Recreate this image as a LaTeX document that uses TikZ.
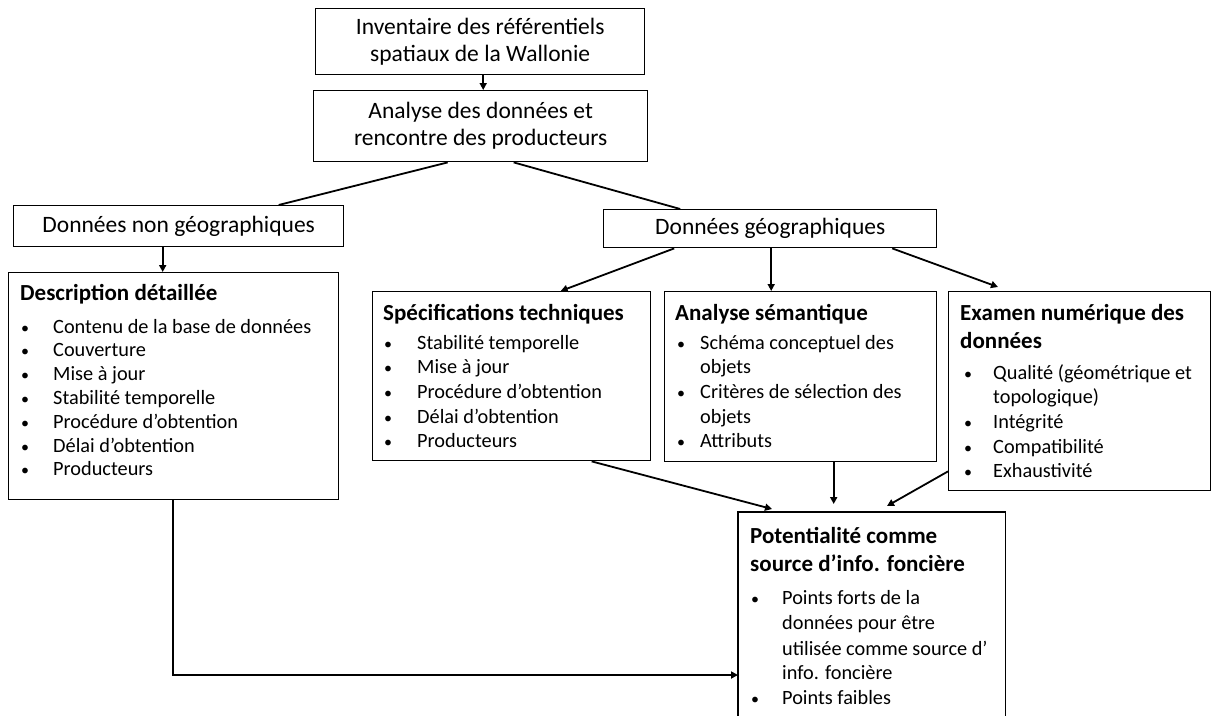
\documentclass[tikz,border=0pt]{standalone}
\usepackage{fontspec}
\setmainfont{Carlito}
\usetikzlibrary{arrows.meta,positioning}
\begin{document}
\begin{tikzpicture}[x=1pt,y=-1pt,
  box/.style={draw, line width=1.4pt, inner sep=0pt, anchor=north west},
  hbox/.style={inner sep=0pt, anchor=north west},
  big/.style={font=\fontsize{23.5}{27}\selectfont},
  ttl/.style={inner sep=0pt, anchor=base west, font=\fontsize{23}{28}\selectfont\bfseries},
  itm/.style={inner sep=0pt, anchor=base west, font=\fontsize{20.3}{24}\selectfont},
  bul/.style={inner sep=0pt, anchor=base west, font=\fontsize{16}{24}\selectfont},
  con/.style={line width=1.8pt},
  arr/.style={con, -{Triangle[length=7pt,width=7pt]}}
]
\useasboundingbox (0,0) rectangle (1213,715);
\fill[white] (0,0) rectangle (1213,715);

% top boxes
\node[box, big, minimum width=329pt, minimum height=66pt, align=center] (inv) at (315,8)
  {Inventaire des référentiels\\spatiaux de la Wallonie};
\node[box, big, minimum width=334pt, minimum height=71pt, align=center] (ana) at (313,90)
  {Analyse des données et\\rencontre des producteurs};
\node[box, big, minimum width=330pt, minimum height=41pt] (ngeo) at (13,205)
  {Données non géographiques};
\node[box, big, minimum width=333pt, minimum height=38pt] (geo) at (603,209)
  {Données géographiques};

% detail boxes
\node[box, minimum width=330pt, minimum height=227pt] (desc) at (8,272) {};
\node[box, minimum width=278pt, minimum height=169pt] (spec) at (372,291) {};
\node[box, minimum width=272pt, minimum height=170pt] (sem) at (664,291) {};
\node[box, minimum width=262pt, minimum height=199pt] (exa) at (948,291) {};
\node[hbox, minimum width=267pt, minimum height=210pt] (pot) at (738,512) {};
\draw[line width=1.4pt] (pot.south west) -- (pot.north west) -- (pot.north east) -- (pot.south east);

% Description
\node[ttl] (dt) at (20,300) {Description détaillée};
\foreach \t [count=\i] in {Contenu de la base de données,Couverture,Mise à jour,Stabilité temporelle,Procédure d’obtention,Délai d’obtention,Producteurs}{
  \node[bul] (db\i) at (21,{333+23.8*(\i-1)}) {\textbullet};
  \node[itm] (di\i) at (53,{333+23.8*(\i-1)}) {\t};
}

% Specifications
\node[ttl] (st) at (383,320) {Spécifications techniques};
\foreach \t [count=\i] in {Stabilité temporelle,Mise à jour,Procédure d’obtention,Délai d’obtention,Producteurs}{
  \node[bul] (sb\i) at (384,{349+24.7*(\i-1)}) {\textbullet};
  \node[itm] (si\i) at (417,{349+24.7*(\i-1)}) {\t};
}

% Semantique
\node[ttl] (mt) at (675,320) {Analyse sémantique};
\node[bul] (mb1) at (677,349) {\textbullet};
\node[itm] (mi1) at (700,349) {Schéma conceptuel des};
\node[itm] (mi2) at (700,373.7) {objets};
\node[bul] (mb3) at (677,398.4) {\textbullet};
\node[itm] (mi3) at (700,398.4) {Critères de sélection des};
\node[itm] (mi4) at (700,423.1) {objets};
\node[bul] (mb5) at (677,447.8) {\textbullet};
\node[itm] (mi5) at (700,447.8) {Attributs};

% Examen
\node[ttl] (et1) at (960,320) {Examen numérique des};
\node[ttl] (et2) at (960,348) {données};
\node[bul] (eb1) at (964,379) {\textbullet};
\node[itm] (ei1) at (993,379) {Qualité (géométrique et};
\node[itm] (ei2) at (993,403.7) {topologique)};
\node[bul] (eb3) at (964,428.4) {\textbullet};
\node[itm] (ei3) at (993,428.4) {Intégrité};
\node[bul] (eb4) at (964,453.1) {\textbullet};
\node[itm] (ei4) at (993,453.1) {Compatibilité};
\node[bul] (eb5) at (964,477.8) {\textbullet};
\node[itm] (ei5) at (993,477.8) {Exhaustivité};

% Potentialite
\node[ttl] (pt1) at (750,543) {Potentialité comme};
\node[ttl] (pt2) at (750,571) {source d’info. foncière};
\node[bul] (pb1) at (751,604) {\textbullet};
\node[itm] (pi1) at (782,604) {Points forts de la};
\node[itm] (pi2) at (782,629) {données pour être};
\node[itm] (pi3) at (782,655) {utilisée comme source d’};
\node[itm] (pi4) at (782,679) {info. foncière};
\node[bul] (pb5) at (751,704) {\textbullet};
\node[itm] (pi5) at (782,704) {Points faibles};

% connectors
\draw[arr] ([xshift=3pt]inv.south) -- ([xshift=3pt]inv.south |- ana.north);
\draw[con] ([xshift=-33pt]ana.south) -- ([xshift=100pt]ngeo.north);
\draw[con] ([xshift=33pt]ana.south) -- ([xshift=-90pt]geo.north);
\draw[arr] ([xshift=-16pt]ngeo.south) -- ([xshift=-16pt]ngeo.south |- desc.north);
\draw[arr] ([xshift=-96pt]geo.south) -- ([xshift=49pt]spec.north);
\draw[arr] ([xshift=1pt]geo.south) -- ([xshift=1pt]geo.south |- sem.north);
\draw[arr] ([xshift=122pt]geo.south) -- ([xshift=50pt,yshift=4pt]exa.north west);
\draw[arr] ([xshift=80pt]spec.south) -- ([xshift=34pt,yshift=3pt]pot.north west);
\draw[arr] ([xshift=33pt]sem.south) -- ([xshift=33pt,yshift=8pt]sem.south |- pot.north);
\draw[arr] ([yshift=20pt]exa.south west) -- ([xshift=149pt,yshift=6pt]pot.north west);
\coordinate (bend) at ([xshift=165pt]desc.south west |- 0,675);
\draw[arr] ([xshift=165pt]desc.south west) -- (bend) -- (bend -| pot.west);
\end{tikzpicture}
\end{document}
